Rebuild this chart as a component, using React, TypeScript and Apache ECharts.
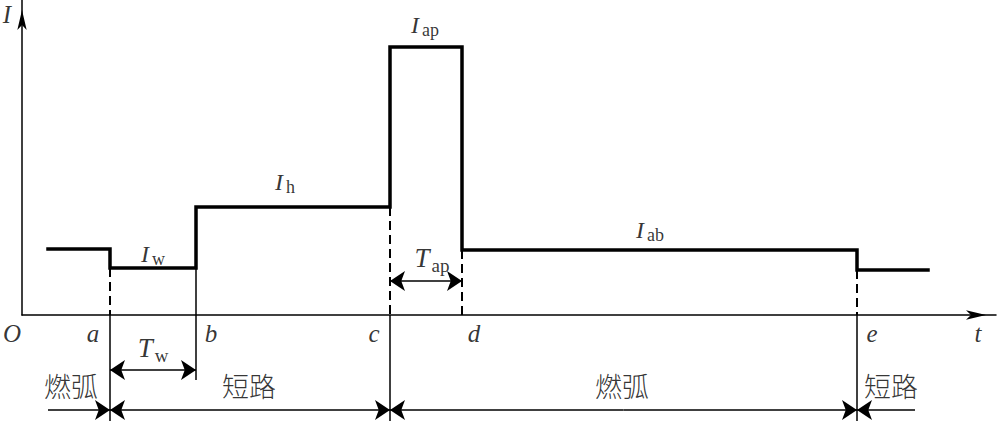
import React, { useEffect, useRef } from "react";
import * as echarts from "echarts";

// time instants along the t axis (arbitrary units)
const tStart = 26;
const tA = 88;
const tB = 174;
const tC = 368;
const tD = 440;
const tE = 835;
const tEnd = 906;
const tAxisEnd = 974;

// current levels (arbitrary units)
const iArcBefore = 66;
const iW = 47;
const iH = 108;
const iAp = 268;
const iAb = 65;
const iShortAfter = 45;
const iAxisTop = 315;
const iBottom = -106;

// waveform
const waveT = [tStart, tA, tA, tB, tB, tC, tC, tD, tD, tE, tE, tEnd];
const waveI = [iArcBefore, iArcBefore, iW, iW, iH, iH, iAp, iAp, iAb, iAb, iShortAfter, iShortAfter];

// point letters under the t axis
const pointNames = ["O", "a", "b", "c", "d", "e", "t"];
const pointT = [-10, 71, 189, 352, 452, 850, 956];
const pointI = -18;

// current labels I_x
const currentSubs = ["w", "h", "ap", "ab"];
const currentT = [131, 263, 403, 628];
const currentI = [61, 133, 290, 85];

// interval labels T_x
const intervalSubs = ["w", "ap"];
const intervalFrom = [tA, tC];
const intervalTo = [tB, tD];
const intervalLabelT = [131, 410];
const intervalLabelI = [-33, 57];
const intervalArrowI = [-55, 34];

// phases
const phaseNames = ["燃弧", "短路", "燃弧", "短路"];
const phaseLabelT = [49, 227, 600, 869];
const phaseLabelI = -70;
const phaseLineI = -95;
const phaseLineStart = 26;
const phaseLineEnd = 893;
const bLineBottom = -65;

const serif = "Liberation Serif, Times New Roman, serif";
const black = "#000";

// a double-headed dimension arrow made of two single-headed halves
function doubleArrow(from: number, to: number, level: number) {
  const mid = (from + to) / 2;
  return [
    { coords: [[mid, level], [from, level]] },
    { coords: [[mid, level], [to, level]] },
  ];
}

export default function App() {
  const ref = useRef<HTMLDivElement>(null);
  useEffect(() => {
    if (!ref.current) return;
    const chart = echarts.init(ref.current, null, { renderer: "svg" });
    const overlay = { xAxisIndex: 1, yAxisIndex: 1 };
    const thin = { color: black, width: 1.5, opacity: 1, curveness: 0 };
    const arrowSize = [5, 15];

    const option: any = {
      animation: false,
      backgroundColor: "#fff",
      grid: [
        { left: 22, right: 1, top: 0, bottom: 106 },
        { left: 0, right: 0, top: 0, bottom: 0 },
      ],
      xAxis: [
        {
          gridIndex: 0,
          type: "value",
          min: 0,
          max: tAxisEnd,
          axisLine: {
            show: true,
            onZero: true,
            symbol: ["none", "arrow"],
            symbolSize: [7, 20],
            symbolOffset: [0, -10],
            lineStyle: { color: black, width: 1.5 },
          },
          axisTick: { show: false },
          axisLabel: { show: false },
          splitLine: { show: false },
        },
        { gridIndex: 1, type: "value", min: -22, max: 975, show: false },
      ],
      yAxis: [
        {
          gridIndex: 0,
          type: "value",
          min: 0,
          max: iAxisTop,
          axisLine: {
            show: true,
            onZero: true,
            symbol: ["none", "arrow"],
            symbolSize: [7, 20],
            symbolOffset: [0, -10],
            lineStyle: { color: black, width: 1.5 },
          },
          axisTick: { show: false },
          axisLabel: { show: false },
          splitLine: { show: false },
        },
        { gridIndex: 1, type: "value", min: iBottom, max: iAxisTop, show: false },
      ],
      series: [
        {
          type: "line",
          ...overlay,
          data: waveT.map((t, k) => [t, waveI[k]]),
          symbol: "none",
          silent: true,
          lineStyle: { color: black, width: 3.5, join: "miter", cap: "square" },
        },
        {
          type: "lines",
          coordinateSystem: "cartesian2d",
          ...overlay,
          silent: true,
          lineStyle: { ...thin, width: 2, type: [9, 5] },
          data: [
            { coords: [[tA, iW], [tA, 0]] },
            { coords: [[tC, iH], [tC, 0]] },
            { coords: [[tD, iAb], [tD, 0]] },
            { coords: [[tE, iShortAfter], [tE, 0]] },
          ],
        },
        {
          type: "lines",
          coordinateSystem: "cartesian2d",
          ...overlay,
          silent: true,
          lineStyle: thin,
          data: [
            { coords: [[tA, 0], [tA, iBottom]] },
            { coords: [[tC, 0], [tC, iBottom]] },
            { coords: [[tE, 0], [tE, iBottom]] },
            { coords: [[tB, iW], [tB, bLineBottom]] },
          ],
        },
        {
          type: "lines",
          coordinateSystem: "cartesian2d",
          ...overlay,
          silent: true,
          symbol: ["none", "arrow"],
          symbolSize: arrowSize,
          lineStyle: thin,
          data: [
            ...intervalFrom.flatMap((f, k) => doubleArrow(f, intervalTo[k], intervalArrowI[k])),
            ...doubleArrow(tA, tC, phaseLineI),
            ...doubleArrow(tC, tE, phaseLineI),
            { coords: [[phaseLineStart, phaseLineI], [tA, phaseLineI]] },
            { coords: [[phaseLineEnd, phaseLineI], [tE, phaseLineI]] },
          ],
        },
        // point letters
        {
          type: "scatter",
          ...overlay,
          silent: true,
          symbolSize: 1,
          itemStyle: { color: "rgba(0,0,0,0)" },
          data: [
            ...pointNames.map((n, k) => ({ name: n, value: [pointT[k], pointI] })),
            { name: "I", value: [-15, 301] },
          ],
          label: {
            show: true,
            position: "inside",
            formatter: "{b}",
            color: black,
            fontFamily: serif,
            fontStyle: "italic",
            fontSize: 25,
          },
        },
        // current labels
        {
          type: "scatter",
          ...overlay,
          silent: true,
          symbolSize: 1,
          itemStyle: { color: "rgba(0,0,0,0)" },
          data: currentSubs.map((s, k) => ({ name: `{m|I}{s|${s}}`, value: [currentT[k], currentI[k]] })),
          label: {
            show: true,
            position: "inside",
            formatter: "{b}",
            color: black,
            rich: {
              m: { fontFamily: serif, fontStyle: "italic", fontSize: 24, color: black },
              s: { fontFamily: serif, fontSize: 18, color: black, padding: [10, 0, 0, 3] },
            },
          },
        },
        // interval labels
        {
          type: "scatter",
          ...overlay,
          silent: true,
          symbolSize: 1,
          itemStyle: { color: "rgba(0,0,0,0)" },
          data: intervalSubs.map((s, k) => ({ name: `{m|T}{s|${s}}`, value: [intervalLabelT[k], intervalLabelI[k]] })),
          label: {
            show: true,
            position: "inside",
            formatter: "{b}",
            color: black,
            rich: {
              m: { fontFamily: serif, fontStyle: "italic", fontSize: 27, color: black },
              s: { fontFamily: serif, fontSize: 19, color: black, padding: [14, 0, 0, 2] },
            },
          },
        },
        // phase labels
        {
          type: "scatter",
          ...overlay,
          silent: true,
          symbolSize: 1,
          itemStyle: { color: "rgba(0,0,0,0)" },
          data: phaseNames.map((n, k) => ({ name: n, value: [phaseLabelT[k], phaseLabelI] })),
          label: {
            show: true,
            position: "inside",
            formatter: "{b}",
            color: black,
            fontFamily: "Noto Sans CJK SC",
            fontWeight: 300,
            fontSize: 27,
          },
        },
      ],
    };
    chart.setOption(option);
    return () => chart.dispose();
  }, []);
  return (
    <div
      ref={ref}
      style={{ position: "fixed", left: 0, top: 0, width: 997, height: 421, background: "#fff" }}
    />
  );
}
